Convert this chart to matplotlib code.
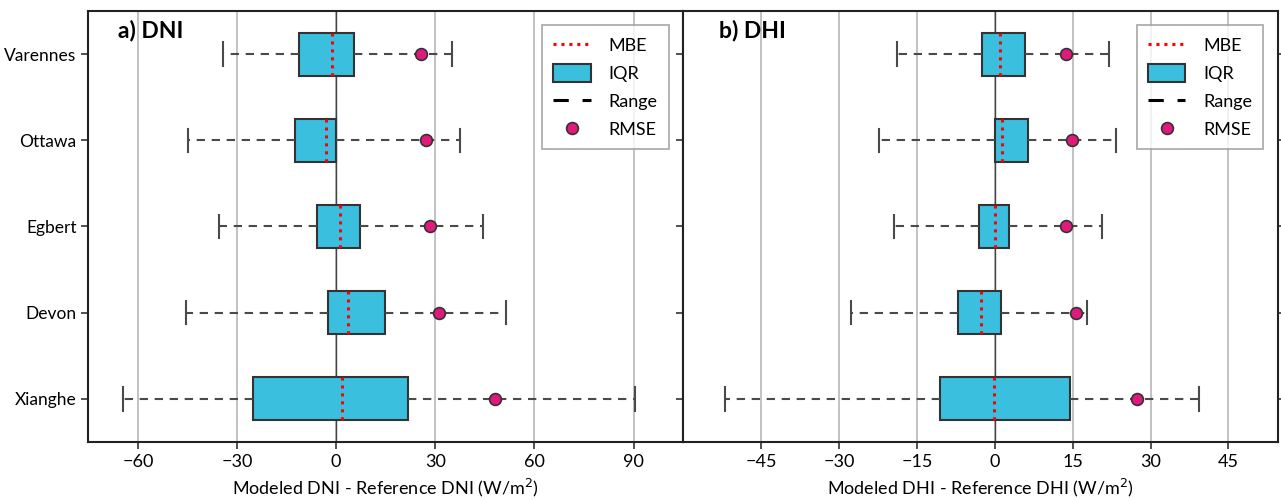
import matplotlib

matplotlib.use("Agg")

import matplotlib.pyplot as plt
from matplotlib.lines import Line2D
from matplotlib.patches import Patch

sites = ["Varennes", "Ottawa", "Egbert", "Devon", "Xianghe"]

# DNI errors (W/m2): range min/max, IQR q1/q3, MBE, RMSE
dni_min = [-34.2, -44.9, -35.6, -45.4, -64.6]
dni_q1 = [-11.3, -12.6, -5.9, -2.6, -25.1]
dni_mbe = [-1.2, -3.2, 1.3, 3.6, 1.8]
dni_q3 = [5.4, 0.0, 7.3, 14.8, 21.6]
dni_max = [35.2, 37.5, 44.4, 51.3, 90.3]
dni_rmse = [25.8, 27.2, 28.3, 31.0, 48.1]

# DHI errors (W/m2)
dhi_min = [-18.9, -22.2, -19.4, -27.7, -51.9]
dhi_q1 = [-2.5, 0.0, -3.0, -7.1, -10.6]
dhi_mbe = [1.1, 1.4, 0.1, -2.6, -0.2]
dhi_q3 = [5.8, 6.4, 2.7, 1.2, 14.5]
dhi_max = [22.0, 23.4, 20.6, 17.8, 39.3]
dhi_rmse = [13.8, 14.9, 13.7, 15.7, 27.4]

BOX = "#3abfdf"
RMSE_C = "#e2197c"
EDGE = "#333333"
FS = 13

plt.rcParams["font.family"] = ["Lato", "DejaVu Sans"]


def panel(ax, lo, q1, mbe, q3, hi, rmse, title, xlabel, xlim, ticks, title_x):
    stats = [
        dict(whislo=a, q1=b, med=c, q3=d, whishi=e, fliers=[])
        for a, b, c, d, e in zip(lo, q1, mbe, q3, hi)
    ]
    pos = list(range(len(stats)))
    ax.bxp(
        stats,
        positions=pos,
        orientation="horizontal",
        widths=0.5,
        capwidths=0.27,
        patch_artist=True,
        showfliers=False,
        boxprops=dict(facecolor=BOX, edgecolor=EDGE, linewidth=1.5),
        whiskerprops=dict(color="#4a4a4a", linewidth=1.5, dashes=(4, 3.2)),
        capprops=dict(color="#4a4a4a", linewidth=1.5),
        medianprops=dict(color="red", linewidth=2.2, linestyle=(0, (1, 1.6))),
        zorder=3,
    )
    ax.plot(rmse, pos, "o", color=RMSE_C, markersize=8.5, markeredgecolor=EDGE,
            markeredgewidth=1.2, linestyle="none", zorder=5)
    ax.axvline(0, color="#444444", linewidth=1.0, zorder=1)
    ax.set_xlim(*xlim)
    ax.set_xticks(ticks)
    ax.set_ylim(len(stats) - 0.5, -0.5)
    ax.grid(axis="x", color="#bdbdbd", linewidth=1.3)
    ax.grid(axis="y", visible=False)
    ax.set_axisbelow(True)
    for s in ax.spines.values():
        s.set_linewidth(1.5)
        s.set_color("#222222")
    ax.tick_params(axis="both", labelsize=FS, length=5, width=1.2, color="#333333")
    ax.tick_params(axis="y", labelsize=12.5)
    ax.set_xlabel(xlabel, fontsize=FS, labelpad=5)
    ax.text(title_x, 0.954, title, transform=ax.transAxes, fontsize=16.5,
            fontweight="bold", va="center", ha="left")

    handles = [
        Line2D([], [], color="red", linewidth=2.2, linestyle=(0, (1, 1.6))),
        Patch(facecolor=BOX, edgecolor=EDGE, linewidth=1.5),
        Line2D([], [], color="black", linewidth=2.2, dashes=(5, 4.5)),
        Line2D([], [], marker="o", color=RMSE_C, markeredgecolor=EDGE,
               markersize=8.5, markeredgewidth=1.2, linestyle="none"),
    ]
    leg = ax.legend(handles, ["MBE", "IQR", "Range", "RMSE"], loc="upper right",
                    fontsize=FS, frameon=True, fancybox=False, edgecolor="#999999",
                    handlelength=2.1, handleheight=1.15, labelspacing=0.55,
                    borderaxespad=0.8, borderpad=0.6, handletextpad=1.0)
    leg.get_frame().set_linewidth(1.3)


fig, (ax1, ax2) = plt.subplots(1, 2, figsize=(12.81, 5.0), dpi=100)
fig.subplots_adjust(left=0.069, right=0.9975, top=0.978, bottom=0.116, wspace=0)

panel(ax1, dni_min, dni_q1, dni_mbe, dni_q3, dni_max, dni_rmse, "a) DNI",
      "Modeled DNI - Reference DNI (W/m$^2$)", (-75, 105),
      [-60, -30, 0, 30, 60, 90], 0.049)
panel(ax2, dhi_min, dhi_q1, dhi_mbe, dhi_q3, dhi_max, dhi_rmse, "b) DHI",
      "Modeled DHI - Reference DHI (W/m$^2$)", (-60, 54.5),
      [-45, -30, -15, 0, 15, 30, 45], 0.06)

ax1.set_yticks(range(len(sites)))
ax1.set_yticklabels(sites)
ax2.set_yticks(range(len(sites)))
ax2.tick_params(axis="y", left=True, right=True, labelleft=False)

fig.savefig("out.png", dpi=100, facecolor="white")
plt.close(fig)
